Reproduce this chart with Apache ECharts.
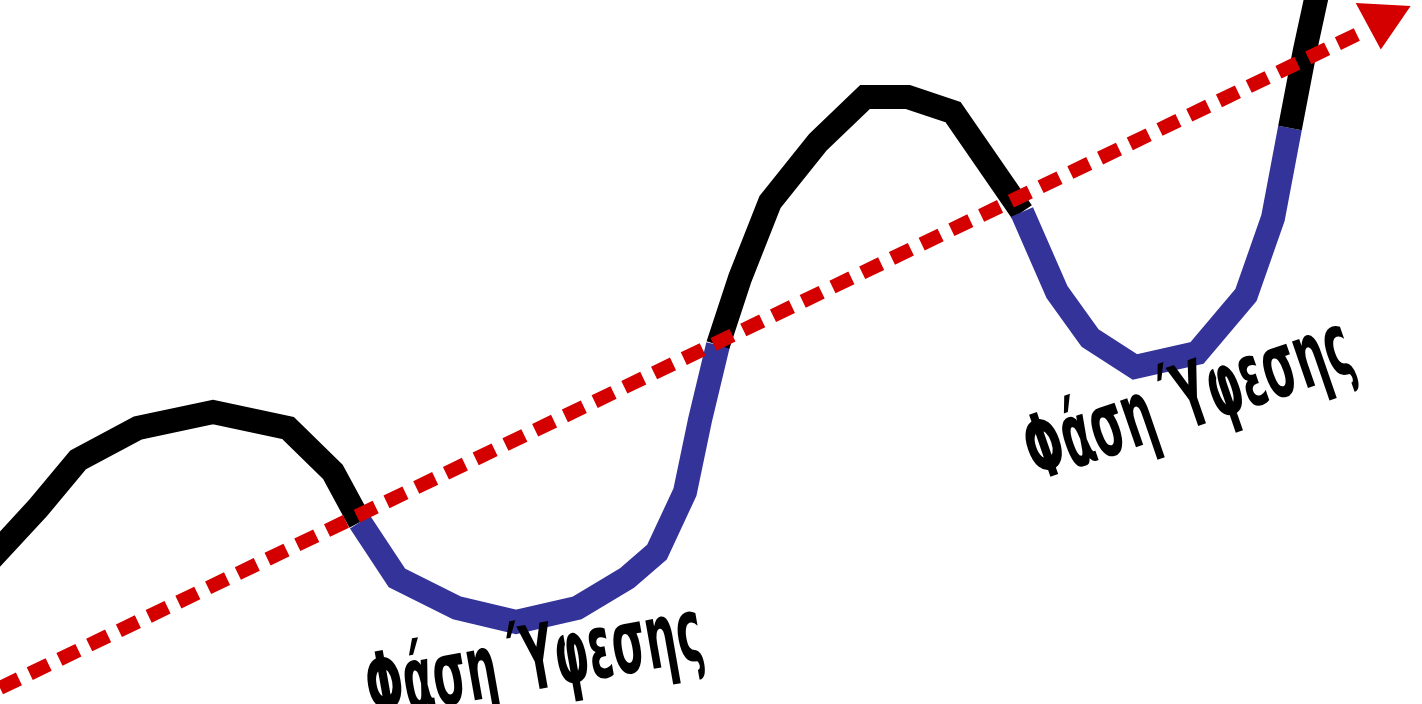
<!DOCTYPE html>
<html>
<head>
<meta charset="utf-8">
<script src="https://cdn.jsdelivr.net/npm/echarts@6/dist/echarts.min.js"></script>
<style>html,body{margin:0;padding:0;background:#fff}#c{width:1422px;height:704px}</style>
</head>
<body>
<div id="c"></div>
<script>
// Business-cycle illustration: [time, level]
const expansion1 = [[-10,144],[38,196],[78,244],[138,276],[213,292],[288,276],[333,232],[360,182]];
const recession1 = [[360,182],[397,126],[457,96],[516,82],[577,96],[627,126],[657,152],[685,212],[700,284],[718,359]];
const expansion2 = [[718,359],[740,426],[770,502],[818,562],[865,607],[908,607],[953,592],[1022,492]];
const recession2 = [[1022,492],[1057,412],[1090,366],[1135,337],[1197,351],[1246,409],[1273,486],[1290,576]];
const expansion3 = [[1290,576],[1305,654],[1318,714]];
const trend = [[0,16],[1362,672]];
const trendArrow = [[1382,677]];
const phaseLabels = [
  {value:[535,38], text:'Φάση Ύφεσης', angle:10},
  {value:[1190,300], text:'Φάση Ύφεσης', angle:19}
];

const BLACK = '#000000', BLUE = '#333399', RED = '#d40000';
const FONT = "'DejaVu Sans',sans-serif";
const LABEL_SIZE = 90, LABEL_LEN = 340;

function seg(data, color) {
  return {
    type:'line', data:data, symbol:'none', z:2,
    lineStyle:{color:color, width:24, cap:'butt', join:'miter'}
  };
}

const chart = echarts.init(document.getElementById('c'));
chart.setOption({
  animation:false,
  backgroundColor:'#ffffff',
  grid:{left:0,right:0,top:0,bottom:0},
  xAxis:{type:'value',min:0,max:1422,show:false},
  yAxis:{type:'value',min:0,max:704,show:false},
  series:[
    seg(expansion1, BLACK),
    seg(recession1, BLUE),
    seg(expansion2, BLACK),
    seg(recession2, BLUE),
    seg(expansion3, BLACK),
    {
      type:'line', data:trend, symbol:'none', z:5,
      lineStyle:{color:RED, width:14, type:[21,12], cap:'butt'}
    },
    {
      type:'scatter', data:trendArrow, z:6,
      symbol:'triangle', symbolSize:[55,45], symbolRotate:177,
      itemStyle:{color:RED, opacity:1}
    }
  ]
});

// condensed, rotated phase labels anchored to data coordinates
const ctx = document.createElement('canvas').getContext('2d');
ctx.font = 'bold ' + LABEL_SIZE + 'px ' + FONT;
chart.setOption({
  graphic: phaseLabels.map(d => {
    const p = chart.convertToPixel({gridIndex:0}, d.value);
    const w = ctx.measureText(d.text).width;
    return {
      type:'text', x:p[0], y:p[1], z:10,
      rotation: d.angle * Math.PI / 180,
      scaleX: LABEL_LEN / w,
      style:{text:d.text, fill:'#000', font:'bold ' + LABEL_SIZE + 'px ' + FONT,
             align:'center', verticalAlign:'middle'}
    };
  })
});
</script>
</body>
</html>
